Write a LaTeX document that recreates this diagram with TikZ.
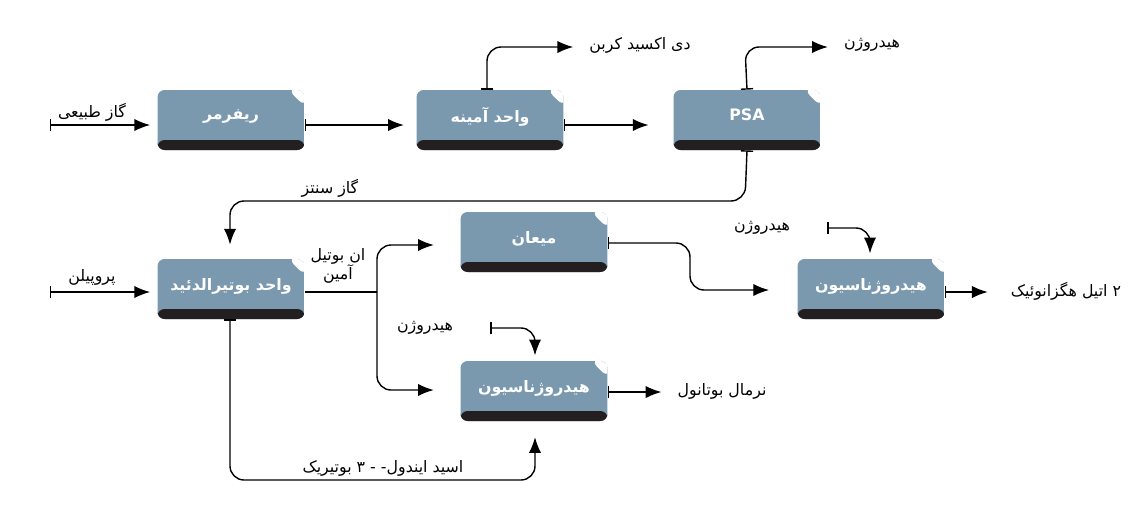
\documentclass[tikz,border=0pt]{standalone}
\usepackage{fontspec}
\usetikzlibrary{arrows.meta}
\newfontfamily\fafont{DejaVu Sans}[Script=Arabic]
\TeXXeTstate=1
\newcommand{\fa}[1]{{\fafont\beginR #1\endR}}
\definecolor{unitblue}{HTML}{7A98AE}
\definecolor{unitdark}{HTML}{231F20}
\tikzset{unit/.style={minimum width=2.94cm,minimum height=1.2cm,inner sep=0pt,
                      rounded corners=4pt,text=white,font=\fafont\bfseries\small,
                      text depth=0.2cm,
                      path picture={
                        \fill[unitblue] (path picture bounding box.south west) rectangle (path picture bounding box.north east);
                        \fill[unitdark] (path picture bounding box.south west) rectangle ([yshift=0.2cm]path picture bounding box.south east);
                        \fill[white] ([xshift=-0.32cm]path picture bounding box.north east) -- ([xshift=0.2cm,yshift=0.2cm]path picture bounding box.north east) -- ([yshift=-0.32cm]path picture bounding box.north east) -- cycle;}}}
\tikzset{label/.style={font=\small,inner sep=1pt}}
\tikzset{flow/.style={-{Latex[length=9pt,width=7pt]},line width=0.8pt,rounded corners=8pt}}
\tikzset{outflow/.style={flow,{Bar[width=7pt]}-{Latex[length=9pt,width=7pt]}}}
\begin{document}
\begin{tikzpicture}[x=0.02cm,y=-0.02cm]
  \useasboundingbox (0,0) rectangle (1138,522);
  % process units
  \node (reformer) [unit] at (231,120) {\fa{ریفرمر}};
  \node (amine)    [unit] at (490,120) {\fa{واحد آمینه}};
  \node (psa)      [unit] at (747,120) {PSA};
  \node (butyr)    [unit] at (231,289) {\fa{واحد بوتیرالدئید}};
  \node (meeting)  [unit] at (534,242) {\fa{میعان}};
  \node (hydlow)   [unit] at (534,391) {\fa{هیدروژناسیون}};
  \node (hydright) [unit] at (871,289) {\fa{هیدروژناسیون}};
  % stream labels
  \node (ng)     [label] at (92,112)  {\fa{گاز طبیعی}};
  \node (co2)    [label] at (640,45)  {\fa{دی اکسید کربن}};
  \node (h2a)    [label] at (872,45)  {\fa{هیدروژن}};
  \node (syn)    [label] at (330,188) {\fa{گاز سنتز}};
  \node (prop)   [label] at (92,277)  {\fa{پروپیلن}};
  \node (nbut)   [label,align=center] at (338,266) {\fa{ان بوتیل}\\\fa{آمین}};
  \node (h2b)    [label] at (425,328) {\fa{هیدروژن}};
  \node (h2c)    [label] at (762,228) {\fa{هیدروژن}};
  \node (nbuoh)  [label] at (722,391) {\fa{نرمال بوتانول}};
  \node (eha)    [label] at (1066,291) {\fa{۲ اتیل هگزانوئیک}};
  \node (iba)    [label] at (383,468) {\fa{اسید ایندول- - ۳ بوتیریک}};
  % free ends
  \coordinate (ngin) at (50,125);
  \coordinate (propin) at (50,292);
  \coordinate (split) at (377,292);
  % connections
  \draw[outflow] (ngin) -- ([xshift=-4pt]reformer.west |- ngin);
  \draw[outflow] (propin) -- ([xshift=-4pt]butyr.west |- propin);
  \draw[outflow] (reformer.east |- ngin) -- ([xshift=-7pt]amine.west |- ngin);
  \draw[outflow] (amine.east |- ngin) -- ([xshift=-14pt]psa.west |- ngin);
  \draw[outflow] (amine.north -| 487,0) -- (487,47) -- ([xshift=-8pt]co2.west |- 0,47);
  \draw[outflow] (psa.north) -- (745,47) -- ([xshift=-8pt]h2a.west |- 0,47);
  \draw[outflow] (psa.south) -- (745,201) -- (230,201) -- ([yshift=8pt]butyr.north -| 230,0);
  \draw[line width=0.8pt] (butyr.east |- split) -- (split);
  \draw[flow] (split) -- (377,245) -- ([xshift=-15pt]meeting.west |- 0,245);
  \draw[flow] (split) -- (377,390) -- ([xshift=-15pt]hydlow.west |- 0,390);
  \draw[outflow] (butyr.south -| 230,0) -- (230,480) -- (535,480) -- ([yshift=-9pt]hydlow.south -| 535,0);
  \draw[outflow] ([xshift=20pt]h2b.east) -- (535,328) -- ([yshift=3pt]hydlow.north -| 535,0);
  \draw[outflow] (hydlow.east |- 0,392) -- ([xshift=-8pt]nbuoh.west |- 0,392);
  \draw[outflow] (meeting.east |- 0,243) -- (690,243) -- (690,290) -- ([xshift=-16pt]hydright.west |- 0,290);
  \draw[outflow] ([xshift=20pt]h2c.east) -- (870,228) -- ([yshift=3pt]hydright.north -| 870,0);
  \draw[outflow] (hydright.east |- 0,292) -- ([xshift=-12pt]eha.west |- 0,292);
\end{tikzpicture}
\end{document}
